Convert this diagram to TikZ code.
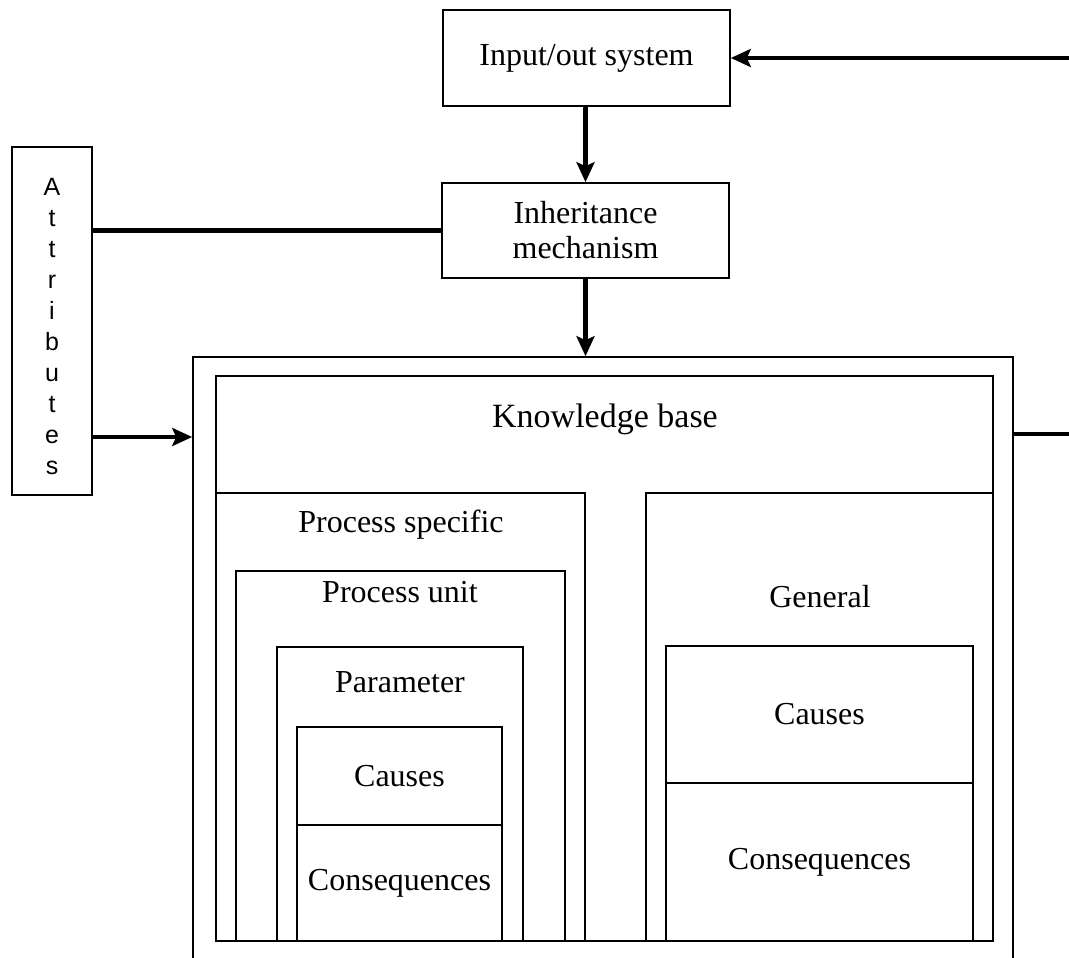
\documentclass[tikz,border=0pt]{standalone}
\usepackage{fontspec}
\setmainfont{Liberation Serif}
\newfontfamily\attrfont{Liberation Sans}
\usetikzlibrary{arrows.meta,calc}
\begin{document}
\begin{tikzpicture}[x=0.5pt,y=-0.5pt,
  box/.style={draw, line width=0.8pt, inner sep=0pt, align=center,
    font=\fontsize{16}{17.5}\selectfont},
  conn/.style={line width=2.2pt},
  arr/.style={conn, -{Stealth[length=10pt,width=9pt,inset=2pt]}},
  lbl/.style={font=\fontsize{16}{17.5}\selectfont, anchor=base, inner sep=0pt},
  attrtext/.style={font=\attrfont\fontsize{12.5}{15.5}\selectfont, align=center, inner sep=0pt}]
\useasboundingbox[fill=white] (0,0) rectangle (1069,957);

% top boxes
\node[box, minimum width=143.5pt, minimum height=48pt] (input) at (586.5,58) {Input/out system};
\node[box, minimum width=143.5pt, minimum height=47.5pt] (inherit) at (585.5,230.5) {Inheritance\\mechanism};

% attributes
\node[box, minimum width=40pt, minimum height=174pt] (attr) at (52,321) {};
\node[attrtext] (attrtxt) at (52,327) {A\\t\\t\\r\\i\\b\\u\\t\\e\\s};

% outer frame (open at the bottom of the picture)
\node[box, minimum width=410pt, minimum height=314pt] (outer) at (603,671) {};

% knowledge base
\node[box, minimum width=388.5pt, minimum height=282.5pt] (kb) at (604.5,658.5) {};
\node[lbl, font=\fontsize{17}{18}\selectfont] (kbtxt) at (605,427) {Knowledge base};

% process specific column
\node[box, minimum width=184.5pt, minimum height=224pt] (ps) at (400.5,717) {};
\node[lbl] (pstxt) at (401,532) {Process specific};
\node[box, minimum width=164.5pt, minimum height=185pt] (pu) at (400.5,756) {};
\node[lbl] (putxt) at (400,602) {Process unit};
\node[box, minimum width=123pt, minimum height=147pt] (par) at (400,794) {};
\node[lbl] (partxt) at (400,692) {Parameter};
\node[box, minimum width=102.5pt, minimum height=49pt] (causesl) at (399.5,776) {Causes};
\node[box, minimum width=102.5pt, minimum height=58pt] (consl) at (399.5,883) {Consequences};

% general column
\node[box, minimum width=173.5pt, minimum height=224pt] (gen) at (819.5,717) {};
\node[lbl] (gentxt) at (820,607) {General};
\node[box, minimum width=153.5pt, minimum height=68.5pt] (causesr) at (819.5,714.5) {Causes};
\node[box, minimum width=153.5pt, minimum height=79pt] (consr) at (819.5,862) {Consequences};

% free ends at the right border
\coordinate (rin) at (1069,58);
\coordinate (rout) at (1069,434);
\coordinate (ya) at (0,437);

% connectors
\draw[arr] (rin) -- (input.east |- rin);
\draw[arr] (input.south -| inherit.south) -- (inherit.north);
\draw[arr] (inherit.south) -- (inherit.south |- outer.north);
\draw[conn] (attr.east |- inherit.west) -- (inherit.west);
\draw[arr] (attr.east |- ya) -- (outer.west |- ya);
\draw[conn] (outer.east |- rout) -- (rout);
\end{tikzpicture}
\end{document}
